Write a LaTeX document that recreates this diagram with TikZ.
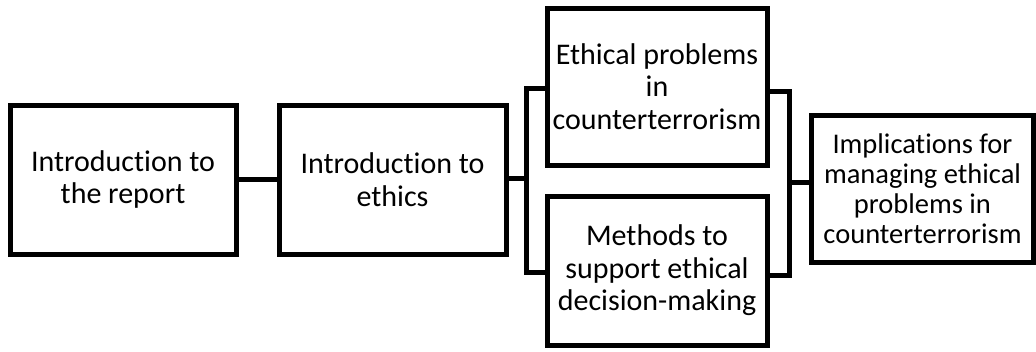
\documentclass[tikz,border=0pt]{standalone}
\usepackage{fontspec}
\setmainfont{Carlito}[Ligatures=NoCommon]
\begin{document}
\begin{tikzpicture}[x=1pt,y=-1pt,
  box/.style={draw, line width=5pt, inner sep=0pt, outer sep=0pt, align=center,
    font=\fontsize{30}{32.5}\selectfont},
  smallbox/.style={box, font=\fontsize{28.5}{30}\selectfont},
  conn/.style={line width=5pt}]
\useasboundingbox (0,0) rectangle (1036,351);
\node[box, minimum width=226pt, minimum height=149pt] (b1) at (123,179.5) {Introduction to\\the report};
\node[box, minimum width=227pt, minimum height=149pt] (b2) at (392.5,179.5) {Introduction to\\ethics};
\node[box, minimum width=220pt, minimum height=157pt] (b3) at (657,86.5) {Ethical problems\\in\\counterterrorism};
\node[box, minimum width=220pt, minimum height=149pt] (b4) at (657,270.5) {Methods to\\support ethical\\decision-making};
\node[smallbox, minimum width=222pt, minimum height=147pt] (b5) at (922.5,188.5) {Implications for\\managing ethical\\problems in\\counterterrorism};
\coordinate (lm) at (526,178);
\coordinate (lt) at (526,88);
\coordinate (lb) at (526,272);
\coordinate (rt) at (789,91);
\coordinate (rb) at (789,275);
\coordinate (rm) at (789,182);
\draw[conn] (b1.east |- 0,179) -- (b2.west |- 0,179);
\draw[conn] (b2.east |- lm) -- (lm);
\draw[conn] (b3.west |- lt) -- (lt) -- (lb) -- (b4.west |- lb);
\draw[conn] (b3.east |- rt) -- (rt) -- (rb) -- (b4.east |- rb);
\draw[conn] (rm) -- (b5.west |- rm);
\end{tikzpicture}
\end{document}
